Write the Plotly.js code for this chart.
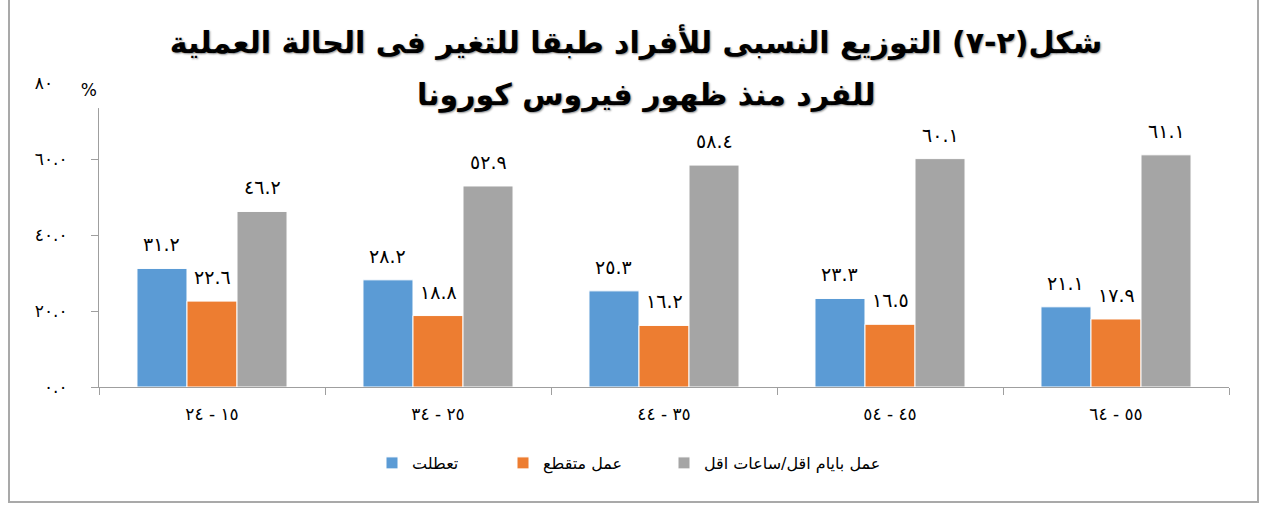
<!DOCTYPE html>
<html>
<head>
<meta charset="utf-8">
<script src="https://cdn.plot.ly/plotly-3.0.1.min.js"></script>
<style>
  html, body { margin: 0; padding: 0; background: #fff; }
  #wrap { position: relative; width: 1261px; height: 505px; }
  #chart { width: 1261px; height: 505px; }
  #frame { position: absolute; left: 8px; top: -4px; width: 1251px; height: 507px; border: 2px solid #a9a9a9; box-sizing: border-box; pointer-events: none; }
</style>
</head>
<body>
<div id="wrap"><div id="chart"></div><div id="frame"></div></div>
<script>
// ---- data ----
const categories = ["١٥ - ٢٤", "٢٥ - ٣٤", "٣٥ - ٤٤", "٤٥ - ٥٤", "٥٥ - ٦٤"];
const seriesNames = ["تعطلت", "عمل متقطع", "عمل بايام اقل/ساعات اقل"];
const stopped      = [31.2, 28.2, 25.3, 23.3, 21.1];
const intermittent = [22.6, 18.8, 16.2, 16.5, 17.9];
const fewerDays    = [46.2, 52.9, 58.4, 60.1, 61.1];
const yTickVals = [0, 20, 40, 60, 80];
const yTickText = ["٠.٠", "٢٠.٠", "٤٠.٠", "٦٠.٠", "٨٠.٠"];
const titleLine1 = "شكل(٢-٧) التوزيع النسبى للأفراد طبقا للتغير فى الحالة العملية";
const titleLine2 = "للفرد منذ ظهور فيروس كورونا";
const unitLabel = "%";
const colors = ["#5B9BD5", "#ED7D31", "#A5A5A5"];
const legendWidths = [86, 116, 190];

// ---- helpers ----
function arDigits(str) { return str.replace(/[0-9]/g, d => "٠١٢٣٤٥٦٧٨٩"[+d]); }

const allSeries = [stopped, intermittent, fewerDays];
const font = "DejaVu Sans, Arial, sans-serif";
const titleFont = { family: font, size: 30, color: "#000", weight: "bold", shadow: "1px 1px 2px rgba(0,0,0,0.45)" };

const traces = allSeries.map((vals, i) => ({
  type: "bar",
  name: seriesNames[i],
  x: categories,
  y: vals,
  legendwidth: legendWidths[i],
  marker: { color: colors[i], line: { color: "#ffffff", width: 1 } },
  hoverinfo: "skip"
}));

const plotL = 99, plotR = 32, plotT = 83, plotB = 118;
const plotW = 1261 - plotL - plotR;
const plotH = 505 - plotT - plotB;
const bargap = 0.336;
const barPx = plotW / categories.length * (1 - bargap) / 3;

const annotations = [];
allSeries.forEach((vals, i) => {
  vals.forEach((v, j) => {
    annotations.push({
      x: categories[j], y: v, xref: "x", yref: "y",
      xshift: (i - 1) * barPx, yshift: 11,
      yanchor: "bottom", xanchor: "center",
      text: arDigits(v.toFixed(1)), showarrow: false,
      font: { family: font, size: 19, color: "#000" }
    });
  });
});
// unit label (its white box hides the tail of the top tick label, as in the original)
annotations.push({
  x: 0, xref: "paper", xshift: -23, y: (505 - plotB - 90) / plotH, yref: "paper",
  text: unitLabel, showarrow: false, xanchor: "center", yanchor: "middle",
  width: 42, height: 30, align: "right", bgcolor: "#ffffff",
  font: { family: font, size: 17, color: "#000" }
});
annotations.push({
  x: (646 - plotL) / plotW, xref: "paper", y: (505 - plotB - 95) / plotH, yref: "paper",
  text: titleLine2, showarrow: false, xanchor: "center", yanchor: "middle",
  font: titleFont
});

const layout = {
  width: 1261, height: 505,
  margin: { l: plotL, r: plotR, t: plotT, b: plotB },
  paper_bgcolor: "#fff", plot_bgcolor: "#fff",
  title: {
    text: titleLine1,
    x: 636 / 1261, xref: "container", xanchor: "center",
    y: 1 - 42 / 505, yref: "container", yanchor: "middle",
    font: titleFont
  },
  barmode: "group", bargap: bargap, bargroupgap: 0,
  showlegend: true,
  legend: {
    orientation: "h", x: (372 - plotL) / plotW, xanchor: "left", y: -0.25, yanchor: "middle",
    font: { family: font, size: 16, color: "#000" },
    traceorder: "normal", itemwidth: 30
  },
  xaxis: {
    type: "category", showline: true, linecolor: "#9f9f9f", linewidth: 1,
    ticks: "outside", tickson: "boundaries", ticklen: 7, tickcolor: "#9f9f9f",
    showgrid: false, zeroline: false, ticklabelstandoff: 12,
    tickfont: { family: font, size: 17, color: "#000" }
  },
  yaxis: {
    range: [0, 80], showline: true, linecolor: "#9f9f9f", linewidth: 1,
    ticks: "outside", ticklen: 7, tickcolor: "#9f9f9f",
    tickvals: yTickVals, ticktext: yTickText,
    showgrid: false, zeroline: false, ticklabelstandoff: 20,
    tickfont: { family: font, size: 17, color: "#000" }
  },
  shapes: [{
    type: "rect", layer: "above", xref: "paper", yref: "paper",
    xsizemode: "pixel", xanchor: 0, x0: -9, x1: 2,
    y0: 73.4 / 80, y1: 1.03,
    fillcolor: "#ffffff", line: { width: 0 }
  }],
  annotations: annotations
};

Plotly.newPlot("chart", traces, layout, { displayModeBar: false, responsive: false });
</script>
</body>
</html>
